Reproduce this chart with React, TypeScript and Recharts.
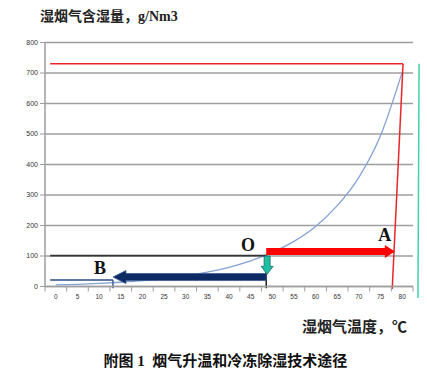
import React from 'react';
import { ComposedChart, Line, XAxis, YAxis, CartesianGrid, ReferenceLine, ReferenceDot } from 'recharts';

// Temperature categories (°C) and saturated moisture content (g/Nm3)
const temperatures = [0, 5, 10, 15, 20, 25, 30, 35, 40, 45, 50, 55, 60, 65, 70, 75, 80];
const moisture = [5, 7, 10, 14, 19, 26, 35, 47, 63, 84, 112, 148, 197, 265, 358, 495, 703];
const yTicks = [0, 100, 200, 300, 400, 500, 600, 700, 800];
const xLabelTicks = temperatures;
const xBoundaryTicks = [-2.5, 2.5, 7.5, 12.5, 17.5, 22.5, 27.5, 32.5, 37.5, 42.5, 47.5, 52.5, 57.5, 62.5, 67.5, 72.5, 77.5, 82.5];

// Annotation points (temperature, moisture)
const pointO = { t: 48.6, m: 101 };
const pointAEnd = { t: 78.3, m: 115 };
const pointBEnd = { t: 13.2, m: 31 };
const redFrame = [{ x: -1.3, y: 730 }, { x: 80.2, y: 730 }, { x: 77.7, y: -8 }];
const tealLine = [{ x: 83.9, y: 730 }, { x: 83.65, y: -38 }];

const data = temperatures.map((t, i) => ({ t, m: moisture[i] }));
const allXTicks = [...xBoundaryTicks, ...xLabelTicks].sort((a, b) => a - b);

const GRID = '#9e9e9e';

const XTick = (props: any) => {
  const { x, y, payload } = props;
  const v = payload.value;
  if (xBoundaryTicks.includes(v)) {
    return <line x1={x} x2={x} y1={y - 8} y2={y - 3} stroke={GRID} strokeWidth={1} />;
  }
  return (
    <text x={x} y={y} dy="0.71em" textAnchor="middle" fontSize={6.5} fill="#333" fontFamily="Liberation Sans, Arial">
      {v}
    </text>
  );
};

const makeArrow = (fill: string, shaft: number, headLen: number, headW: number, stroke?: string) => (props: any) => {
  const { x1, y1, x2, y2 } = props;
  const dx = x2 - x1;
  const dy = y2 - y1;
  const len = Math.hypot(dx, dy) || 1;
  const ux = dx / len, uy = dy / len;
  const nx = -uy, ny = ux;
  const bx = x2 - ux * headLen, by = y2 - uy * headLen;
  const s = shaft / 2, h = headW / 2;
  const pts = [
    [x1 + nx * s, y1 + ny * s],
    [bx + nx * s, by + ny * s],
    [bx + nx * h, by + ny * h],
    [x2, y2],
    [bx - nx * h, by - ny * h],
    [bx - nx * s, by - ny * s],
    [x1 - nx * s, y1 - ny * s],
  ].map((p) => p.join(',')).join(' ');
  return <polygon points={pts} fill={fill} stroke={stroke || 'none'} strokeWidth={stroke ? 0.8 : 0} />;
};

const letterLabel = (value: string) => ({
  value,
  position: 'center' as const,
  fontSize: 18,
  fontWeight: 'bold',
  fontFamily: 'Liberation Serif, Times New Roman, serif',
  fill: '#111',
});

export default function App() {
  return (
    <div style={{ position: 'absolute', left: 0, top: 0, width: 427, height: 385, background: '#fff' }}>
      <ComposedChart
        width={427}
        height={385}
        data={data}
        margin={{ top: 42.5, right: 14, bottom: 78.5, left: 10 }}
      >
        <CartesianGrid vertical={false} stroke={GRID} strokeWidth={1.5} />
        <XAxis
          type="number"
          dataKey="t"
          domain={[-2.5, 82.5]}
          ticks={allXTicks}
          interval={0}
          tickLine={false}
          tickSize={6}
          tickMargin={2}
          axisLine={{ stroke: GRID, strokeWidth: 1.5 }}
          tick={<XTick />}
          height={20}
          allowDataOverflow
        />
        <YAxis
          type="number"
          domain={[0, 800]}
          ticks={yTicks}
          interval={0}
          width={35}
          tickSize={5}
          axisLine={{ stroke: GRID, strokeWidth: 1.5 }}
          tickLine={{ stroke: GRID }}
          tick={{ fontSize: 7, fill: '#333', fontFamily: 'Liberation Sans, Arial' }}
          allowDataOverflow
        />
        <Line
          dataKey="m"
          type="monotone"
          stroke="#84a2d4"
          strokeWidth={1.3}
          dot={false}
          isAnimationActive={false}
        />
        {/* red frame */}
        <ReferenceLine segment={[redFrame[0], redFrame[1]]} stroke="#e8262a" strokeWidth={1.5} ifOverflow="visible" />
        <ReferenceLine segment={[redFrame[1], redFrame[2]]} stroke="#e8262a" strokeWidth={1.5} ifOverflow="visible" />
        {/* teal line */}
        <ReferenceLine segment={[tealLine[0], tealLine[1]]} stroke="#3fd4ac" strokeWidth={1.5} ifOverflow="visible" />
        {/* black line at O level */}
        <ReferenceLine segment={[{ x: -1.3, y: pointO.m }, { x: pointO.t, y: pointO.m }]} stroke="#333" strokeWidth={1.8} ifOverflow="visible" />
        {/* thin navy line and vertical at B */}
        <ReferenceLine segment={[{ x: -1.3, y: 21 }, { x: pointBEnd.t, y: 21 }]} stroke="#2c4a86" strokeWidth={1.5} ifOverflow="visible" />
        <ReferenceLine segment={[{ x: pointBEnd.t, y: 21 }, { x: pointBEnd.t, y: -6 }]} stroke="#2c4a86" strokeWidth={1.3} ifOverflow="visible" />
        {/* vertical dark line at O */}
        <ReferenceLine segment={[{ x: pointO.t, y: pointO.m }, { x: pointO.t, y: -6 }]} stroke="#222" strokeWidth={1.5} ifOverflow="visible" />
        {/* red arrow O -> A */}
        <ReferenceLine
          segment={[{ x: pointO.t, y: pointAEnd.m }, { x: pointAEnd.t, y: pointAEnd.m }]}
          ifOverflow="visible"
          shape={makeArrow('#ff0000', 7, 10, 13)}
        />
        {/* navy arrow O -> B */}
        <ReferenceLine
          segment={[{ x: pointO.t, y: pointBEnd.m }, { x: pointBEnd.t, y: pointBEnd.m }]}
          ifOverflow="visible"
          shape={makeArrow('#0d2a63', 7, 13, 13, '#3a5a90')}
        />
        {/* teal down arrow */}
        <ReferenceLine
          segment={[{ x: pointO.t + 0.2, y: pointO.m - 1 }, { x: pointO.t + 0.2, y: 40 }]}
          ifOverflow="visible"
          shape={makeArrow('#1fbfa4', 6, 8, 12, '#1b6b66')}
        />
        <ReferenceDot x={44.4} y={136} r={0} fill="none" stroke="none" ifOverflow="visible" label={letterLabel('O')} />
        <ReferenceDot x={76.0} y={169} r={0} fill="none" stroke="none" ifOverflow="visible" label={letterLabel('A')} />
        <ReferenceDot x={10.2} y={61} r={0} fill="none" stroke="none" ifOverflow="visible" label={letterLabel('B')} />
      </ComposedChart>
      <div
        style={{
          position: 'absolute', left: 40, top: 8, fontSize: 14, lineHeight: '18px', fontWeight: 'bold',
          color: '#222', fontFamily: 'Liberation Serif, "Noto Sans CJK SC", serif', whiteSpace: 'nowrap',
        }}
      >
        湿烟气含湿量，g/Nm3
      </div>
      <div
        style={{
          position: 'absolute', left: 302, top: 318, fontSize: 15, lineHeight: '18px', fontWeight: 'bold',
          color: '#222', fontFamily: 'Liberation Serif, "Noto Sans CJK SC", serif', whiteSpace: 'nowrap',
        }}
      >
        湿烟气温度，℃
      </div>
      <div
        style={{
          position: 'absolute', left: 0, width: 451, top: 352, textAlign: 'center', fontSize: 15, lineHeight: '18px',
          fontWeight: 'bold', color: '#111', fontFamily: 'Liberation Serif, "Noto Sans CJK SC", serif', whiteSpace: 'pre',
        }}
      >
        {'附图 1  烟气升温和冷冻除湿技术途径'}
      </div>
    </div>
  );
}
